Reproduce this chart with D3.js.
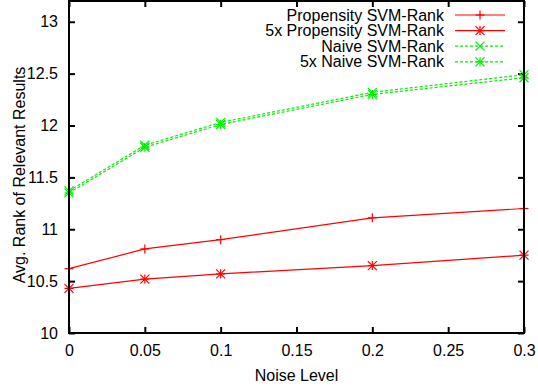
<!DOCTYPE html>
<html>
<head>
<meta charset="utf-8">
<script src="https://cdn.jsdelivr.net/npm/d3@7"></script>
<style>
  body { margin: 0; background: #fff; }
  text { font-family: "Liberation Sans", Arial, sans-serif; }
</style>
</head>
<body>
<div id="wrapper"></div>
<script>
// data
const noise = [0, 0.05, 0.1, 0.2, 0.3];
const propensity = [10.62, 10.81, 10.90, 11.11, 11.20];
const propensity5x = [10.43, 10.52, 10.57, 10.65, 10.75];
const naive = [11.37, 11.81, 12.03, 12.32, 12.49];
const naive5x = [11.35, 11.79, 12.01, 12.30, 12.46];
const xTicks = [0, 0.05, 0.1, 0.15, 0.2, 0.25, 0.3];
const yTicks = [10, 10.5, 11, 11.5, 12, 12.5, 13];

const seriesList = [
  { name: "Propensity SVM-Rank", values: propensity, color: "#ff0000", dash: null, marker: "plus" },
  { name: "5x Propensity SVM-Rank", values: propensity5x, color: "#ff0000", dash: null, marker: "star" },
  { name: "Naive SVM-Rank", values: naive, color: "#00ee00", dash: "3,2", marker: "cross" },
  { name: "5x Naive SVM-Rank", values: naive5x, color: "#00ee00", dash: "3,2", marker: "star" }
];

const dimensions = {
  width: 538,
  height: 387,
  margins: { top: 1, right: 14, bottom: 54, left: 69 }
};
dimensions.boundedWidth = dimensions.width - dimensions.margins.left - dimensions.margins.right;
dimensions.boundedHeight = dimensions.height - dimensions.margins.top - dimensions.margins.bottom;

const svg = d3.select("#wrapper")
  .append("svg")
    .attr("width", dimensions.width)
    .attr("height", dimensions.height);

const bounds = svg.append("g")
  .attr("transform", `translate(${dimensions.margins.left},${dimensions.margins.top})`);

const xScale = d3.scaleLinear()
  .domain([0, 0.3])
  .range([0, dimensions.boundedWidth]);

const yScale = d3.scaleLinear()
  .domain([10, 13.2])
  .range([dimensions.boundedHeight, 0]);

// ticks (inward, mirrored)
const tickLen = 6;
const xAxisBottom = d3.axisBottom(xScale).tickValues(xTicks).tickSizeInner(-tickLen).tickSizeOuter(0)
  .tickPadding(12).tickFormat(d3.format("~g"));
const xAxisTop = d3.axisTop(xScale).tickValues(xTicks).tickSizeInner(-tickLen).tickSizeOuter(0).tickFormat("");
const yAxisLeft = d3.axisLeft(yScale).tickValues(yTicks).tickSizeInner(-tickLen).tickSizeOuter(0)
  .tickPadding(11).tickFormat(d3.format("~g"));
const yAxisRight = d3.axisRight(yScale).tickValues(yTicks).tickSizeInner(-tickLen).tickSizeOuter(0).tickFormat("");

function styleAxis(g) {
  g.select(".domain").remove();
  g.selectAll(".tick line").attr("stroke", "#000").attr("stroke-width", 2);
  g.selectAll(".tick text").attr("fill", "#000").style("font-size", "16px");
}

bounds.append("g").attr("transform", `translate(0,${dimensions.boundedHeight})`).call(xAxisBottom).call(styleAxis);
bounds.append("g").call(xAxisTop).call(styleAxis);
bounds.append("g").call(yAxisLeft).call(styleAxis);
bounds.append("g").attr("transform", `translate(${dimensions.boundedWidth},0)`).call(yAxisRight).call(styleAxis);

// markers
function drawMarker(g, type, cx, cy, color) {
  const s = 4.5;
  const segs = [];
  if (type === "plus" || type === "star") {
    segs.push([cx - s, cy, cx + s, cy], [cx, cy - s, cx, cy + s]);
  }
  if (type === "cross" || type === "star") {
    segs.push([cx - s, cy - s, cx + s, cy + s], [cx - s, cy + s, cx + s, cy - s]);
  }
  segs.forEach(p => {
    g.append("line")
      .attr("x1", p[0]).attr("y1", p[1]).attr("x2", p[2]).attr("y2", p[3])
      .attr("stroke", color).attr("stroke-width", 1.2);
  });
}

const lineGen = d3.line()
  .x((d, i) => xScale(noise[i]))
  .y(d => yScale(d));

seriesList.forEach(s => {
  const g = bounds.append("g");
  g.append("path")
    .attr("d", lineGen(s.values))
    .attr("fill", "none")
    .attr("stroke", s.color)
    .attr("stroke-width", 1.2)
    .attr("stroke-dasharray", s.dash);
  s.values.forEach((v, i) => drawMarker(g, s.marker, xScale(noise[i]), yScale(v), s.color));
});

// frame
bounds.append("rect")
  .attr("x", 0).attr("y", 0)
  .attr("width", dimensions.boundedWidth)
  .attr("height", dimensions.boundedHeight)
  .attr("fill", "none")
  .attr("stroke", "#000")
  .attr("stroke-width", 2);

// legend
const legend = bounds.append("g")
  .attr("transform", `translate(${dimensions.boundedWidth - 69},0)`);

seriesList.forEach((s, i) => {
  const y = 14 + i * 15.6;
  legend.append("text")
    .attr("x", -11)
    .attr("y", y + 5.5)
    .attr("text-anchor", "end")
    .style("font-size", "16px")
    .attr("fill", "#000")
    .text(s.name);
  legend.append("line")
    .attr("x1", 0).attr("x2", 50)
    .attr("y1", y).attr("y2", y)
    .attr("stroke", s.color)
    .attr("stroke-width", 1.2)
    .attr("stroke-dasharray", s.dash);
  drawMarker(legend, s.marker, 25, y, s.color);
});

// axis labels
bounds.append("text")
  .attr("x", dimensions.boundedWidth / 2)
  .attr("y", dimensions.boundedHeight + 48)
  .attr("text-anchor", "middle")
  .style("font-size", "16px")
  .text("Noise Level");

bounds.append("text")
  .attr("transform", `translate(${-44},${dimensions.boundedHeight / 2 + 8}) rotate(-90)`)
  .attr("text-anchor", "middle")
  .style("font-size", "16px")
  .text("Avg. Rank of Relevant Results");
</script>
</body>
</html>
